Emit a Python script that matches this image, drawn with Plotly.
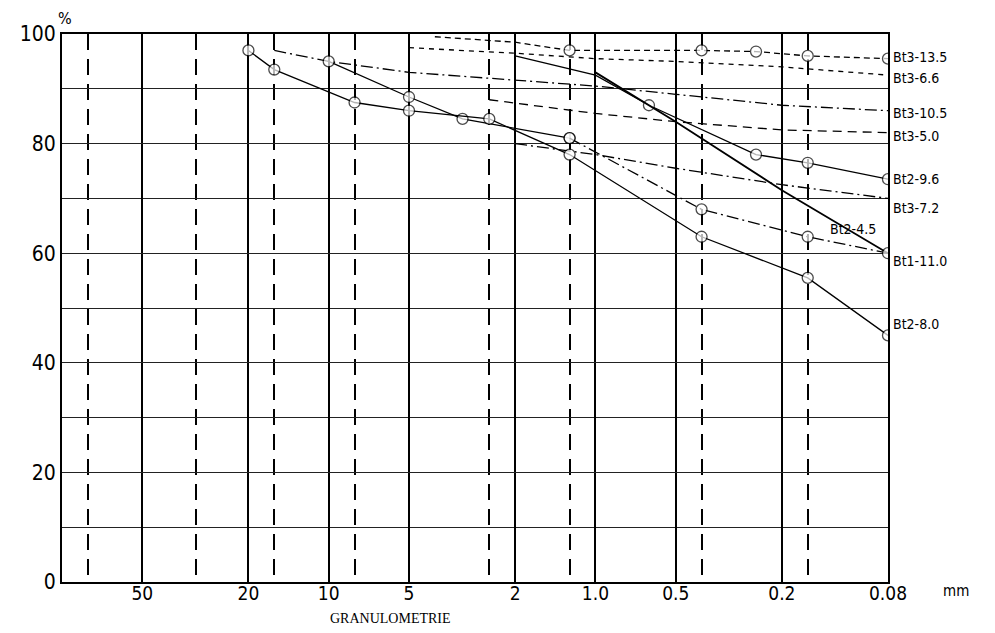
import math
import plotly.graph_objects as go

# ---- axes ----
SIEVE_MAJOR = [50, 20, 10, 5, 2, 1, 0.5, 0.2, 0.08]
MAJOR_LABELS = ["50", "20", "10", "5", "2", "1.0", "0.5", "0.2", "0.08"]
SIEVE_MINOR = [80, 31.5, 16, 8, 2.5, 1.25, 0.4, 0.16]
PCT_MAJOR = [0, 20, 40, 60, 80, 100]
PCT_MINOR = [10, 30, 50, 70, 90]

# ---- series (sieve size mm, % passing) ----
bt3_135_d = [4, 2, 1.25, 0.4, 0.25, 0.16, 0.08]
bt3_135_p = [99.5, 98.5, 97, 97, 96.8, 96, 95.5]
bt3_135_m = [0, 0, 1, 1, 1, 1, 1]

bt3_66_d = [5, 2, 1, 0.5, 0.2, 0.08]
bt3_66_p = [97.5, 96.5, 95.5, 95, 94, 92.5]

bt3_105_d = [16, 10, 5, 2, 1, 0.5, 0.2, 0.08]
bt3_105_p = [97, 95, 93, 91.5, 90.5, 89, 87, 86]

bt3_50_d = [2.5, 1, 0.5, 0.2, 0.08]
bt3_50_p = [88, 85.5, 84, 82.5, 82]

bt2_96_d = [2, 1, 0.63, 0.25, 0.16, 0.08]
bt2_96_p = [96, 92.5, 87, 78, 76.5, 73.5]
bt2_96_m = [0, 0, 1, 1, 1, 1]

bt3_72_d = [2, 1, 0.5, 0.2, 0.08]
bt3_72_p = [80, 78, 75.5, 72.5, 70]

bt2_45_d = [1, 0.5, 0.2, 0.08]
bt2_45_p = [93, 84, 71.5, 60]

bt1_110a_d = [10, 5, 3.15, 1.25]
bt1_110a_p = [95, 88.5, 84.5, 81]
bt1_110b_d = [1.25, 0.4, 0.16, 0.08]
bt1_110b_p = [81, 68, 63, 60]

bt2_80_d = [20, 16, 8, 5, 2.5, 1.25, 0.4, 0.16, 0.08]
bt2_80_p = [97, 93.5, 87.5, 86, 84.5, 78, 63, 55.5, 45]

SERIES_LABELS = ["Bt3-13.5", "Bt3-6.6", "Bt3-10.5", "Bt3-5.0", "Bt2-9.6",
                 "Bt3-7.2", "Bt1-11.0", "Bt2-8.0"]
LABEL_Y = [95.8, 92, 85.5, 81.3, 73.5, 68.2, 58.5, 47]
INNER_LABEL = "Bt2-4.5"
INNER_LABEL_POS = (0.108, 64.5)

FONT = "Liberation Sans Narrow, DejaVu Sans Condensed, Arial Narrow, sans-serif"

fig = go.Figure()


def add(d, p, dash="solid", marks=None, width=1.3):
    if marks is None:
        mode = "lines"
        marker = None
    else:
        mode = "lines+markers"
        marker = dict(symbol="circle", size=[11 if m else 0 for m in marks],
                      color="white", line=dict(color="black", width=1.3))
    fig.add_trace(go.Scatter(x=d, y=p, mode=mode,
                             line=dict(color="black", width=width, dash=dash),
                             marker=marker, showlegend=False, hoverinfo="skip"))


add(bt3_135_d, bt3_135_p, "6px,4px", bt3_135_m)
add(bt3_66_d, bt3_66_p, "5px,5px")
add(bt3_105_d, bt3_105_p, "12px,4px,2px,4px")
add(bt3_50_d, bt3_50_p, "9px,6px")
add(bt2_96_d, bt2_96_p, "solid", bt2_96_m)
add(bt3_72_d, bt3_72_p, "12px,4px,2px,4px")
add(bt2_45_d, bt2_45_p, "solid", width=1.8)
add(bt1_110a_d, bt1_110a_p, "solid", [1] * len(bt1_110a_d))
add(bt1_110b_d, bt1_110b_p, "12px,4px,2px,4px", [1] * len(bt1_110b_d))
add(bt2_80_d, bt2_80_p, "solid", [1] * len(bt2_80_d))

annotations = []
for txt, yv in zip(SERIES_LABELS, LABEL_Y):
    annotations.append(dict(x=1.004, xref="paper", y=yv, yref="y", text=txt,
                            showarrow=False, xanchor="left", yanchor="middle",
                            font=dict(size=14, family=FONT, color="black")))
annotations.append(dict(x=math.log10(INNER_LABEL_POS[0]), xref="x", y=INNER_LABEL_POS[1], yref="y",
                        text=INNER_LABEL, showarrow=False, xanchor="center",
                        font=dict(size=14, family=FONT, color="black")))
annotations.append(dict(x=0.004, xref="paper", y=1.0, yref="paper", text="%",
                        showarrow=False, yanchor="bottom", xanchor="center", yshift=4,
                        font=dict(size=16, family=FONT, color="black")))
annotations.append(dict(x=1.10, xref="paper", y=-0.016, yref="paper", text="mm",
                        showarrow=False, yanchor="middle",
                        font=dict(size=15, family=FONT, color="black")))
annotations.append(dict(x=0.398, xref="paper", y=-0.05, yref="paper", text="GRANULOMETRIE",
                        showarrow=False, yanchor="top",
                        font=dict(size=14, family="Liberation Serif, DejaVu Serif, serif", color="black")))

fig.update_layout(
    width=995, height=633,
    margin=dict(l=44, r=115, t=26, b=59),
    paper_bgcolor="white", plot_bgcolor="white",
    font=dict(family=FONT, color="black"),
    annotations=annotations,
    xaxis=dict(
        type="log", range=[math.log10(100), math.log10(0.08)],
        tickmode="array", tickvals=SIEVE_MAJOR, ticktext=MAJOR_LABELS,
        showgrid=True, gridcolor="black", gridwidth=2,
        showline=True, linecolor="black", linewidth=2, mirror=True,
        ticks="", tickfont=dict(size=19, family=FONT), ticklabelstandoff=-7,
        minor=dict(tickmode="array", tickvals=SIEVE_MINOR, showgrid=True,
                   gridcolor="black", gridwidth=2, griddash="16px,9px", ticks=""),
        zeroline=False,
    ),
    yaxis=dict(
        range=[0, 100], tickmode="array", tickvals=PCT_MAJOR,
        ticktext=[str(v) for v in PCT_MAJOR],
        showgrid=True, gridcolor="#222", gridwidth=1,
        showline=True, linecolor="black", linewidth=2, mirror=True,
        ticks="", tickfont=dict(size=21, family=FONT),
        minor=dict(tickmode="array", tickvals=PCT_MINOR, showgrid=True,
                   gridcolor="#222", gridwidth=1, ticks=""),
        zeroline=False,
    ),
)

fig.write_html("out.html")
